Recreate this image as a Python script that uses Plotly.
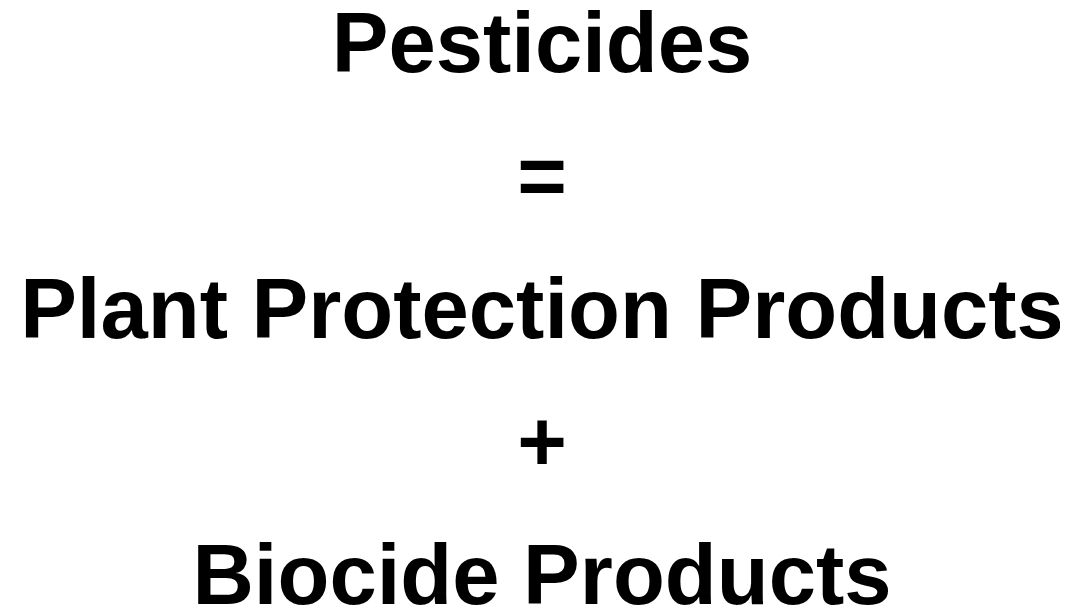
import plotly.graph_objects as go

lines = ["Pesticides", "=", "Plant Protection Products", "+", "Biocide Products"]
order = list(range(len(lines)))

W, H = 1068, 611
pitch = 133.0          # px between lines
first_center = 42.5    # px from top for first line's text center
x_center = 534.0       # px from left for text center

y_top = -first_center / pitch
y_bottom = (H - first_center) / pitch

fig = go.Figure(
    go.Scatter(
        x=[0] * len(lines),
        y=order,
        mode="text",
        text=lines,
        textposition="middle center",
        textfont=dict(family="Liberation Sans, Arial, sans-serif", size=85, color="#000000", weight="bold"),
        hoverinfo="skip",
        showlegend=False,
    )
)

fig.update_layout(
    width=W,
    height=H,
    margin=dict(l=0, r=0, t=0, b=0),
    paper_bgcolor="white",
    plot_bgcolor="white",
    xaxis=dict(visible=False, range=[-x_center, W - x_center], fixedrange=True),
    yaxis=dict(visible=False, range=[y_bottom, y_top], fixedrange=True),
)

fig.write_html("out.html", config={"displayModeBar": False})
